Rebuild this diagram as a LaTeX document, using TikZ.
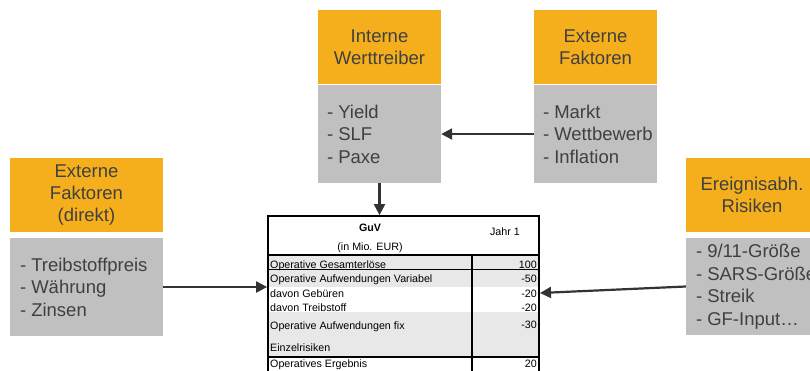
\documentclass[tikz,border=0pt]{standalone}
\usepackage{fontspec}
\setmainfont{Liberation Sans}
\usetikzlibrary{arrows.meta}
\definecolor{orng}{HTML}{F5AF1D}
\definecolor{gry}{HTML}{C0C0C0}
\definecolor{txt}{HTML}{404040}
\definecolor{lgry}{HTML}{E8E8E8}
\definecolor{arr}{HTML}{333333}
\begin{document}
\begin{tikzpicture}[x=1pt,y=-1pt,
  hdr/.style={fill=orng, text=txt, align=center, inner sep=0pt, minimum height=74pt, font=\fontsize{18.5}{22}\selectfont},
  graybox/.style={fill=gry, inner sep=0pt},
  items/.style={text=txt, align=left, inner sep=0pt, font=\fontsize{18.5}{22.5}\selectfont},
  conn/.style={draw=arr, line width=2.2pt, -{Triangle[length=11pt,width=11pt]}},
  tb/.style={font=\fontsize{10.7}{12}\selectfont, inner sep=0pt},
  tline/.style={line width=1.8pt}
]
\useasboundingbox (0,0) rectangle (810,370);
\clip (0,0) rectangle (810,370);

% Interne Werttreiber
\node[hdr, minimum width=123pt] (iwh) at (379.5,47) {Interne\\Werttreiber};
\node[graybox, minimum width=123pt, minimum height=98pt] (iwg) at (379.5,134) {};
\node[items, anchor=west] (iwt) at ([xshift=9pt]iwg.west) {- Yield\\- SLF\\- Paxe};

% Externe Faktoren (top)
\node[hdr, minimum width=123pt] (efh) at (595.5,47) {Externe\\Faktoren};
\node[graybox, minimum width=123pt, minimum height=98pt] (efg) at (595.5,134) {};
\node[items, anchor=west] (eft) at ([xshift=9pt]efg.west) {- Markt\\- Wettbewerb\\- Inflation};

% Externe Faktoren (direkt)
\node[hdr, minimum width=153pt] (ldh) at (86.5,195) {Externe\\Faktoren\\(direkt)};
\node[graybox, minimum width=153pt, minimum height=98pt] (ldg) at (86.5,287) {};
\node[items, anchor=west] (ldt) at ([xshift=10pt]ldg.west) {- Treibstoffpreis\\- W\"ahrung\\- Zinsen};

% Ereignisabh. Risiken
\node[hdr, minimum width=132pt] (erh) at (752,195) {Ereignisabh.\\Risiken};
\node[graybox, minimum width=132pt, minimum height=97pt] (erg) at (752,286.5) {};
\node[items, anchor=west] (ert) at ([xshift=10pt]erg.west) {- 9/11-Gr\"o\ss e\\- SARS-Gr\"o\ss e\\- Streik\\- GF-Input\ldots};

% GuV table
\fill[white] (268,216) rectangle (539,380);
\fill[lgry] (268,256) rectangle (539,269);
\fill[lgry] (268,270) rectangle (539,287);
\fill[lgry] (268,312) rectangle (539,357);
\node[draw, tline, minimum width=271pt, minimum height=164pt, inner sep=0pt] (tab) at (403.5,298) {};
\draw[tline] (tab.west |- 0,255) -- (tab.east |- 0,255);
\draw[tline] (tab.west |- 0,269.5) -- (tab.east |- 0,269.5);
\draw[tline] (tab.west |- 0,357) -- (tab.east |- 0,357);
\draw[tline] (472,255) -- (472,380);

\node[tb, font=\fontsize{10.7}{12}\selectfont\bfseries] (guv) at (370,228) {GuV};
\node[tb] (mio) at (370,248) {(in Mio. EUR)};
\node[tb] (jahr) at (505,232) {Jahr 1};

\node[tb, anchor=base west] (r1) at (270,268) {Operative Gesamterl\"ose};
\node[tb, anchor=base west] (r2) at (270,282) {Operative Aufwendungen Variabel};
\node[tb, anchor=base west] (r3) at (270,297.5) {davon Geb\"uren};
\node[tb, anchor=base west] (r4) at (270,311) {davon Treibstoff};
\node[tb, anchor=base west] (r5) at (270,329) {Operative Aufwendungen fix};
\node[tb, anchor=base west] (r6) at (270,351) {Einzelrisiken};
\node[tb, anchor=base west] (r7) at (270,367) {Operatives Ergebnis};

\node[tb, anchor=base east] (v1) at (537,268) {100};
\node[tb, anchor=base east] (v2) at (537,282) {-50};
\node[tb, anchor=base east] (v3) at (537,297.5) {-20};
\node[tb, anchor=base east] (v4) at (537,311) {-20};
\node[tb, anchor=base east] (v5) at (537,328) {-30};
\node[tb, anchor=base east] (v7) at (537,367) {20};

% connectors
\draw[conn] (iwg.south) -- (iwg.south |- tab.north);
\draw[conn] (efg.west) -- (iwg.east);
\draw[conn] (ldg.east) -- (ldg.east -| tab.west);
\coordinate (rend) at (540,293);
\draw[conn] (erg.west) -- (rend);
\end{tikzpicture}
\end{document}
